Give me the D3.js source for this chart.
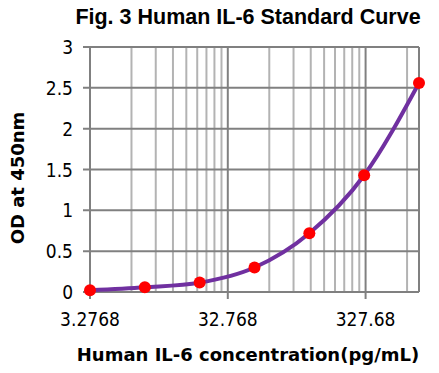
<!DOCTYPE html>
<html>
<head>
<meta charset="utf-8">
<script src="https://cdn.jsdelivr.net/npm/d3@7"></script>
<style>
  body { margin: 0; background: #fff; }
</style>
</head>
<body>
<script>
// chart data: 2.5-fold dilution series of the standard
var concentrations = [3.2768, 8.192, 20.48, 51.2, 128, 320, 800];
var odValues = [0.02, 0.057, 0.115, 0.30, 0.72, 1.43, 2.56];
var xTickValues = [3.2768, 32.768, 327.68];
var xTickLabels = ["3.2768", "32.768", "327.68"];
var yTickValues = [0, 0.5, 1, 1.5, 2, 2.5, 3];
var yTickLabels = ["0", "0.5", "1", "1.5", "2", "2.5", "3"];

var w = 439;
var h = 373;

var svg = d3.select("body")
    .append("svg")
    .attr("width", w)
    .attr("height", h);

// scales
var x = d3.scaleLog()
    .domain([3.2768, 800])
    .range([90, 419]);

var y = d3.scaleLinear()
    .domain([0, 3])
    .range([292, 47]);

// minor gridlines (2x..9x inside each decade)
var minor = [];
xTickValues.forEach(function(d) {
    for (var k = 2; k <= 9; k++) {
        if (d * k < 800) minor.push(d * k);
    }
});

svg.selectAll("line.minor")
    .data(minor)
    .enter()
    .append("line")
    .attr("class", "minor")
    .attr("x1", function(d) { return x(d); })
    .attr("x2", function(d) { return x(d); })
    .attr("y1", y(3))
    .attr("y2", y(0))
    .attr("stroke", "#b3b3b3")
    .attr("stroke-width", 2);

// horizontal gridlines with ticks sticking out on the left
svg.selectAll("line.hgrid")
    .data(yTickValues)
    .enter()
    .append("line")
    .attr("class", "hgrid")
    .attr("x1", 83)
    .attr("x2", x.range()[1])
    .attr("y1", function(d) { return y(d); })
    .attr("y2", function(d) { return y(d); })
    .attr("stroke", "#808080")
    .attr("stroke-width", 2);

// major vertical gridlines with ticks below the axis
svg.selectAll("line.major")
    .data(xTickValues)
    .enter()
    .append("line")
    .attr("class", "major")
    .attr("x1", function(d) { return x(d); })
    .attr("x2", function(d) { return x(d); })
    .attr("y1", y(3))
    .attr("y2", y(0) + 7)
    .attr("stroke", "#808080")
    .attr("stroke-width", 2);

// right border
svg.append("line")
    .attr("x1", x.range()[1])
    .attr("x2", x.range()[1])
    .attr("y1", y(3))
    .attr("y2", y(0))
    .attr("stroke", "#808080")
    .attr("stroke-width", 2);

// tick labels
svg.selectAll("text.ylab")
    .data(yTickValues)
    .enter()
    .append("text")
    .attr("class", "ylab")
    .attr("x", 73)
    .attr("y", function(d) { return y(d) + 7; })
    .attr("text-anchor", "end")
    .style("font-family", "'DejaVu Sans Condensed', 'DejaVu Sans', sans-serif")
    .style("font-size", "19px")
    .text(function(d, i) { return yTickLabels[i]; });

svg.selectAll("text.xlab")
    .data(xTickValues)
    .enter()
    .append("text")
    .attr("class", "xlab")
    .attr("x", function(d) { return x(d); })
    .attr("y", 326)
    .attr("text-anchor", "middle")
    .style("font-family", "'DejaVu Sans Condensed', 'DejaVu Sans', sans-serif")
    .style("font-size", "19px")
    .text(function(d, i) { return xTickLabels[i]; });

// fitted curve
var pts = concentrations.map(function(c, i) { return [c, odValues[i]]; });

var line = d3.line()
    .x(function(d) { return x(d[0]); })
    .y(function(d) { return y(d[1]); })
    .curve(d3.curveMonotoneX);

svg.append("path")
    .datum(pts)
    .attr("d", line)
    .attr("fill", "none")
    .attr("stroke", "#7030a0")
    .attr("stroke-width", 4);

svg.selectAll("circle")
    .data(pts)
    .enter()
    .append("circle")
    .attr("cx", function(d) { return x(d[0]); })
    .attr("cy", function(d) { return y(d[1]); })
    .attr("r", 6)
    .attr("fill", "#ff0000");

// titles
svg.append("text")
    .attr("x", 248)
    .attr("y", 24)
    .attr("text-anchor", "middle")
    .style("font-family", "'Liberation Sans', Arial, sans-serif")
    .style("font-weight", "bold")
    .style("font-size", "21.5px")
    .text("Fig. 3 Human IL-6 Standard Curve");

svg.append("text")
    .attr("x", 248)
    .attr("y", 361)
    .attr("text-anchor", "middle")
    .style("font-family", "'DejaVu Sans', sans-serif")
    .style("font-weight", "bold")
    .style("font-size", "18px")
    .text("Human IL-6 concentration(pg/mL)");

svg.append("text")
    .attr("transform", "translate(24,178) rotate(-90)")
    .attr("text-anchor", "middle")
    .style("font-family", "'DejaVu Sans', sans-serif")
    .style("font-weight", "bold")
    .style("font-size", "18px")
    .text("OD at 450nm");
</script>
</body>
</html>
